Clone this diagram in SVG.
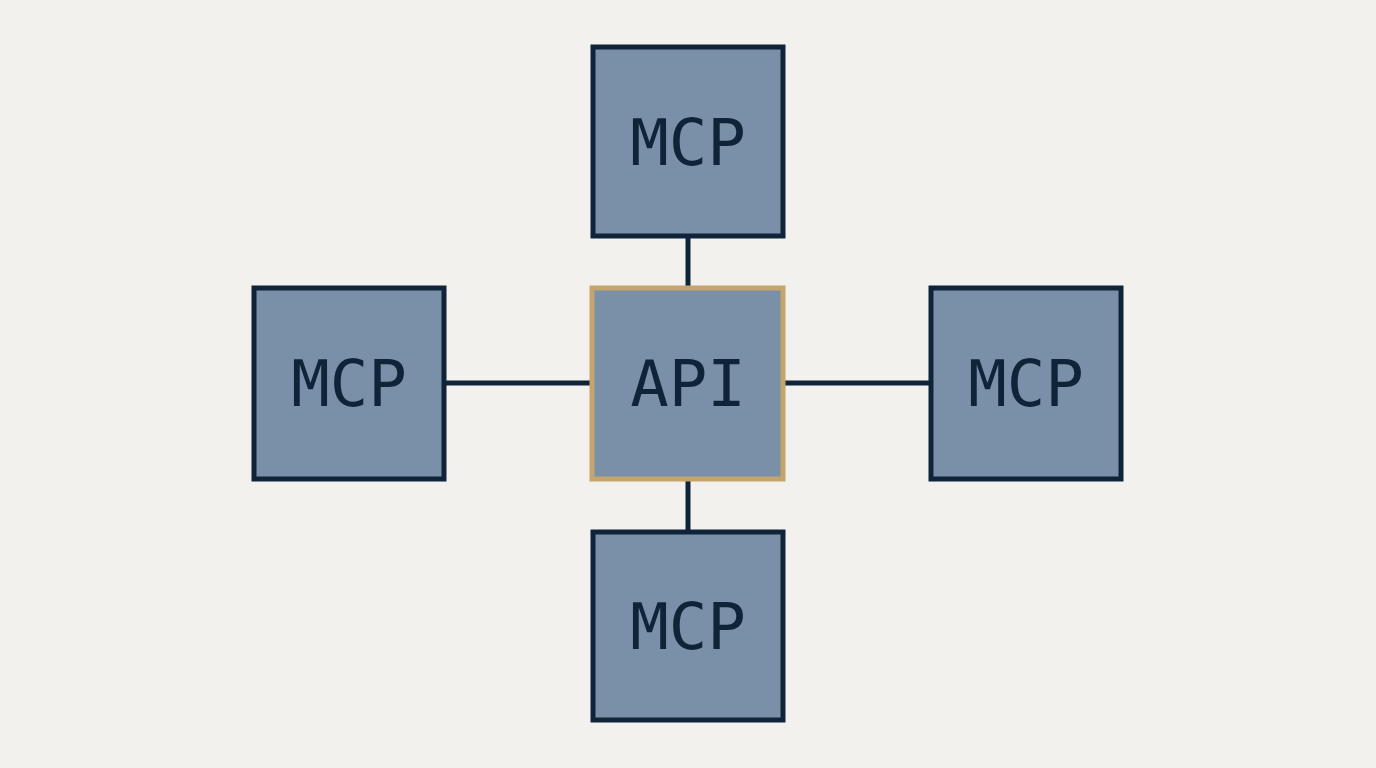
<svg xmlns="http://www.w3.org/2000/svg" width="1376" height="768" viewBox="0 0 1376 768">
<style>
.box{fill:#7a90a8;stroke:#0f2438;stroke-width:5}
.hub{fill:#7a90a8;stroke:#c4a66c;stroke-width:5}
.lbl{font-family:"DejaVu Sans Mono","Liberation Mono",monospace;font-size:64px;fill:#0f2438;text-anchor:middle;dominant-baseline:central}
.ln{stroke:#0f2438;stroke-width:5}
</style>
<rect width="1376" height="768" fill="#f2f1ed"/>
<g id="connectors">
<line class="ln" x1="688" y1="236" x2="688" y2="288"/>
<line class="ln" x1="688" y1="479" x2="688" y2="532"/>
<line class="ln" x1="444" y1="383" x2="592" y2="383"/>
<line class="ln" x1="783" y1="383" x2="931" y2="383"/>
</g>
<g id="top"><rect class="box" x="593" y="47" width="190" height="189"/><text class="lbl" x="688" y="143">MCP</text></g>
<g id="left"><rect class="box" x="254" y="288" width="190" height="191"/><text class="lbl" x="349" y="384">MCP</text></g>
<g id="api"><rect class="hub" x="592" y="288" width="191" height="191"/><text class="lbl" x="688" y="384">API</text></g>
<g id="right"><rect class="box" x="931" y="288" width="190" height="191"/><text class="lbl" x="1026" y="384">MCP</text></g>
<g id="bottom"><rect class="box" x="593" y="532" width="190" height="188"/><text class="lbl" x="688" y="627">MCP</text></g>
</svg>
